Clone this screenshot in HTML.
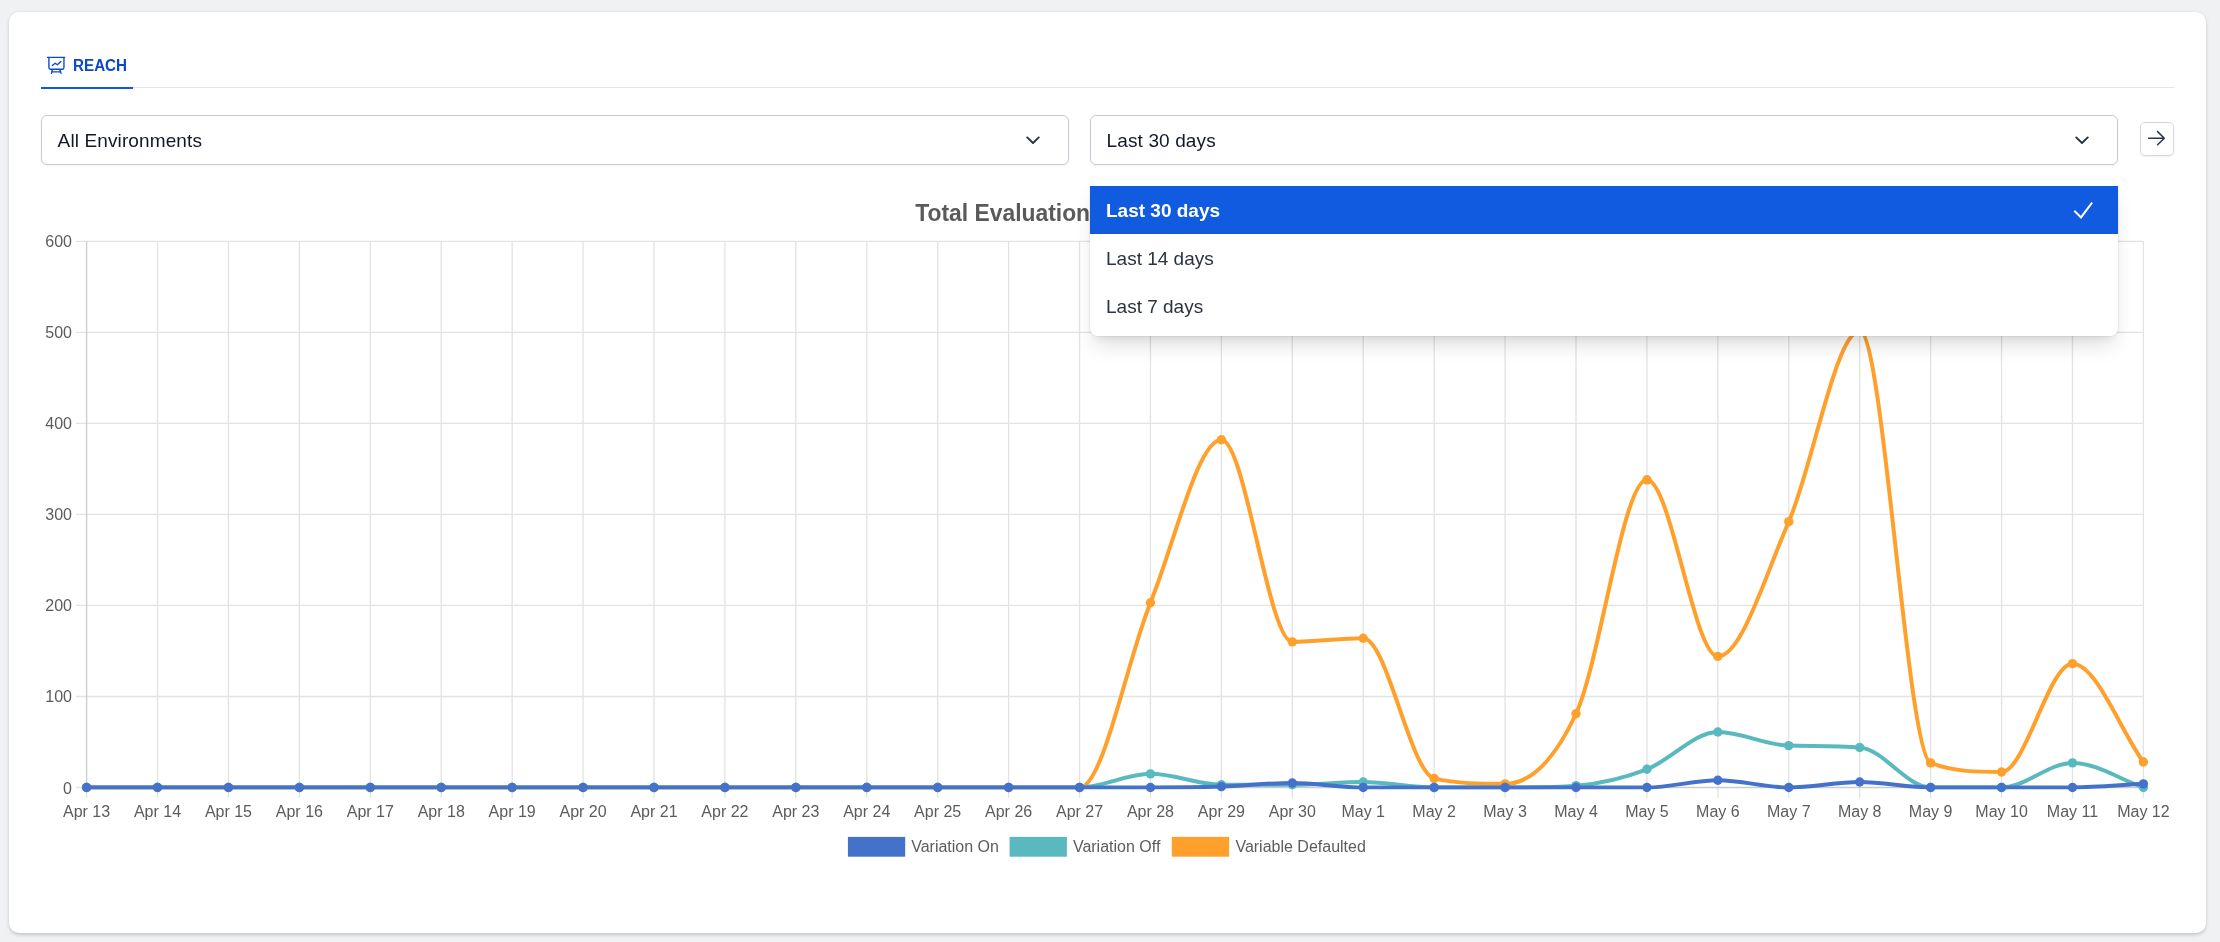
<!DOCTYPE html>
<html>
<head>
<meta charset="utf-8">
<title>Reach</title>
<style>
html,body{margin:0;padding:0;}
body{width:2220px;height:942px;overflow:hidden;background:#f0f1f3;font-family:"Liberation Sans",sans-serif;position:relative;}
.card{position:absolute;left:9px;top:12px;width:2197px;height:921px;background:#fff;border-radius:10px;box-shadow:0 1.3px 4px rgba(0,0,0,.11),0 1.3px 2.7px rgba(0,0,0,.07);}
.tabline{position:absolute;left:41px;top:87px;width:2133px;height:1px;background:#e2e4ea;}
.tabactive{position:absolute;left:41px;top:87px;width:92px;height:2px;background:#1158e0;}
.tabtxt{position:absolute;left:72.6px;top:54.6px;font-size:17.2px;font-weight:bold;color:#0a47c9;line-height:20px;transform:scaleX(0.885);transform-origin:0 0;white-space:nowrap;}
.tabicon{position:absolute;left:46px;top:55px;}
.sel{position:absolute;top:115px;height:48px;border:1px solid #c5c9d3;border-radius:6px;background:#fff;box-shadow:0 1px 2px rgba(0,0,0,.05);}
.sel span{letter-spacing:0.12px;position:absolute;left:15.6px;top:14px;font-size:19px;line-height:21px;color:#111827;white-space:nowrap;}
.sel svg{position:absolute;right:27px;top:17px;}
.btn{position:absolute;left:2140px;top:122px;width:32px;height:32px;border:1px solid #d4d7de;border-radius:5px;background:#fff;box-shadow:0 1px 2px rgba(0,0,0,.06);}
.chart{position:absolute;left:0;top:0;}
.layer{position:absolute;left:0;top:0;width:2220px;height:942px;will-change:transform;}
.dd{position:absolute;left:1090px;top:180px;width:1028px;height:156px;background:#fff;border-radius:8px;box-shadow:0 13px 20px -4px rgba(0,0,0,.13),0 5px 8px -3px rgba(0,0,0,.08),0 0 0 1px rgba(0,0,0,.04);}
.dd .it{position:absolute;left:0;width:1028px;height:48px;}
.dd .it span{position:absolute;left:16px;top:13.8px;font-size:19px;line-height:21px;color:#2a3342;white-space:nowrap;}
.dd .it.on{background:#115be0;}
.dd .it.on span{color:#fff;font-weight:bold;}
</style>
</head>
<body>
<div class="card"></div>
<div class="layer">
<div class="tabline"></div>
<div class="tabactive"></div>
<svg class="tabicon" width="20" height="20" viewBox="0 0 20 20" fill="none" stroke="#0a47c9" stroke-width="1.35" stroke-linecap="round" stroke-linejoin="round">
<path d="M1.500 2.300h17.200M2.900 2.300v10.300a1.600 1.600 0 0 0 1.600 1.600h11.850a1.600 1.600 0 0 0 1.600-1.600V2.300M6.400 14.500l-0.950 3.900M13.800 14.500l1.250 3.900M5.700 16.800h8.800"/>
<path d="M6.300 10.500l2.900-2.300 2.200 1.500 3.500-3.200"/>
</svg>
<div class="tabtxt">REACH</div>

<div class="sel" style="left:41px;width:1026px;"><span>All Environments</span>
<svg width="16" height="16" viewBox="0 0 16 16" fill="none" stroke="#283141" stroke-width="1.9" stroke-linecap="round" stroke-linejoin="round"><path d="M2.200 4.400l5.800 5.600 5.800-5.600"/></svg></div>
<div class="sel" style="left:1090px;width:1026px;"><span>Last 30 days</span>
<svg width="16" height="16" viewBox="0 0 16 16" fill="none" stroke="#283141" stroke-width="1.9" stroke-linecap="round" stroke-linejoin="round"><path d="M2.200 4.400l5.800 5.600 5.800-5.600"/></svg></div>
<div class="btn"><svg width="32" height="32" viewBox="0 0 32 32" fill="none" stroke="#2d3748" stroke-width="1.5" stroke-linecap="round" stroke-linejoin="round" style="position:absolute;left:0;top:0"><path d="M7.6 15.2H23.2M16.6 8.6l6.700 6.600-6.700 6.600"/></svg></div>

<svg class="chart" width="2220" height="942" viewBox="0 0 2220 942">
<defs><clipPath id="ca"><rect x="84.60" y="239.30" width="2060.80" height="550.20"/></clipPath></defs>
<g stroke="#E3E3E3" stroke-width="1.33" shape-rendering="auto"><line x1="86.60" y1="241.30" x2="86.60" y2="798.10"/><line x1="157.52" y1="241.30" x2="157.52" y2="798.10"/><line x1="228.45" y1="241.30" x2="228.45" y2="798.10"/><line x1="299.37" y1="241.30" x2="299.37" y2="798.10"/><line x1="370.30" y1="241.30" x2="370.30" y2="798.10"/><line x1="441.22" y1="241.30" x2="441.22" y2="798.10"/><line x1="512.14" y1="241.30" x2="512.14" y2="798.10"/><line x1="583.07" y1="241.30" x2="583.07" y2="798.10"/><line x1="653.99" y1="241.30" x2="653.99" y2="798.10"/><line x1="724.92" y1="241.30" x2="724.92" y2="798.10"/><line x1="795.84" y1="241.30" x2="795.84" y2="798.10"/><line x1="866.77" y1="241.30" x2="866.77" y2="798.10"/><line x1="937.69" y1="241.30" x2="937.69" y2="798.10"/><line x1="1008.61" y1="241.30" x2="1008.61" y2="798.10"/><line x1="1079.54" y1="241.30" x2="1079.54" y2="798.10"/><line x1="1150.46" y1="241.30" x2="1150.46" y2="798.10"/><line x1="1221.39" y1="241.30" x2="1221.39" y2="798.10"/><line x1="1292.31" y1="241.30" x2="1292.31" y2="798.10"/><line x1="1363.23" y1="241.30" x2="1363.23" y2="798.10"/><line x1="1434.16" y1="241.30" x2="1434.16" y2="798.10"/><line x1="1505.08" y1="241.30" x2="1505.08" y2="798.10"/><line x1="1576.01" y1="241.30" x2="1576.01" y2="798.10"/><line x1="1646.93" y1="241.30" x2="1646.93" y2="798.10"/><line x1="1717.86" y1="241.30" x2="1717.86" y2="798.10"/><line x1="1788.78" y1="241.30" x2="1788.78" y2="798.10"/><line x1="1859.70" y1="241.30" x2="1859.70" y2="798.10"/><line x1="1930.63" y1="241.30" x2="1930.63" y2="798.10"/><line x1="2001.55" y1="241.30" x2="2001.55" y2="798.10"/><line x1="2072.48" y1="241.30" x2="2072.48" y2="798.10"/><line x1="2143.40" y1="241.30" x2="2143.40" y2="798.10"/><line x1="76.00" y1="787.50" x2="2143.40" y2="787.50"/><line x1="76.00" y1="696.47" x2="2143.40" y2="696.47"/><line x1="76.00" y1="605.43" x2="2143.40" y2="605.43"/><line x1="76.00" y1="514.40" x2="2143.40" y2="514.40"/><line x1="76.00" y1="423.37" x2="2143.40" y2="423.37"/><line x1="76.00" y1="332.33" x2="2143.40" y2="332.33"/><line x1="76.00" y1="241.30" x2="2143.40" y2="241.30"/></g><g stroke="#000" stroke-opacity="0.1" stroke-width="1.33"><line x1="86.60" y1="241.30" x2="86.60" y2="787.50"/><line x1="86.60" y1="787.50" x2="2143.40" y2="787.50"/></g>
<g font-family="Liberation Sans, sans-serif" font-size="16" fill="#5c5c5c"><text x="72.00" y="793.50" text-anchor="end">0</text><text x="72.00" y="702.47" text-anchor="end">100</text><text x="72.00" y="611.43" text-anchor="end">200</text><text x="72.00" y="520.40" text-anchor="end">300</text><text x="72.00" y="429.37" text-anchor="end">400</text><text x="72.00" y="338.33" text-anchor="end">500</text><text x="72.00" y="247.30" text-anchor="end">600</text><text x="86.60" y="816.90" text-anchor="middle">Apr 13</text><text x="157.52" y="816.90" text-anchor="middle">Apr 14</text><text x="228.45" y="816.90" text-anchor="middle">Apr 15</text><text x="299.37" y="816.90" text-anchor="middle">Apr 16</text><text x="370.30" y="816.90" text-anchor="middle">Apr 17</text><text x="441.22" y="816.90" text-anchor="middle">Apr 18</text><text x="512.14" y="816.90" text-anchor="middle">Apr 19</text><text x="583.07" y="816.90" text-anchor="middle">Apr 20</text><text x="653.99" y="816.90" text-anchor="middle">Apr 21</text><text x="724.92" y="816.90" text-anchor="middle">Apr 22</text><text x="795.84" y="816.90" text-anchor="middle">Apr 23</text><text x="866.77" y="816.90" text-anchor="middle">Apr 24</text><text x="937.69" y="816.90" text-anchor="middle">Apr 25</text><text x="1008.61" y="816.90" text-anchor="middle">Apr 26</text><text x="1079.54" y="816.90" text-anchor="middle">Apr 27</text><text x="1150.46" y="816.90" text-anchor="middle">Apr 28</text><text x="1221.39" y="816.90" text-anchor="middle">Apr 29</text><text x="1292.31" y="816.90" text-anchor="middle">Apr 30</text><text x="1363.23" y="816.90" text-anchor="middle">May 1</text><text x="1434.16" y="816.90" text-anchor="middle">May 2</text><text x="1505.08" y="816.90" text-anchor="middle">May 3</text><text x="1576.01" y="816.90" text-anchor="middle">May 4</text><text x="1646.93" y="816.90" text-anchor="middle">May 5</text><text x="1717.86" y="816.90" text-anchor="middle">May 6</text><text x="1788.78" y="816.90" text-anchor="middle">May 7</text><text x="1859.70" y="816.90" text-anchor="middle">May 8</text><text x="1930.63" y="816.90" text-anchor="middle">May 9</text><text x="2001.55" y="816.90" text-anchor="middle">May 10</text><text x="2072.48" y="816.90" text-anchor="middle">May 11</text><text x="2143.40" y="816.90" text-anchor="middle">May 12</text></g>
<text transform="translate(915.3 220.7) scale(0.929 1)" font-family="Liberation Sans, sans-serif" font-size="24.6" font-weight="bold" fill="#5a5a5a">Total Evaluation</text>
<path d="M86.60 787.50 C110.24 787.50 133.88 787.50 157.52 787.50 C181.17 787.50 204.81 787.50 228.45 787.50 C252.09 787.50 275.73 787.50 299.37 787.50 C323.01 787.50 346.66 787.50 370.30 787.50 C393.94 787.50 417.58 787.50 441.22 787.50 C464.86 787.50 488.50 787.50 512.14 787.50 C535.79 787.50 559.43 787.50 583.07 787.50 C606.71 787.50 630.35 787.50 653.99 787.50 C677.63 787.50 701.28 787.50 724.92 787.50 C748.56 787.50 772.20 787.50 795.84 787.50 C819.48 787.50 843.12 787.50 866.77 787.50 C890.41 787.50 914.05 787.50 937.69 787.50 C961.33 787.50 984.97 787.50 1008.61 787.50 C1032.26 787.50 1055.90 787.50 1079.54 787.50 C1103.18 787.50 1126.82 660.66 1150.46 602.70 C1174.10 544.74 1197.74 439.75 1221.39 439.75 C1245.03 439.75 1268.67 641.85 1292.31 641.85 C1315.95 641.85 1339.59 638.21 1363.23 638.21 C1386.88 638.21 1410.52 772.93 1434.16 778.40 C1457.80 783.86 1481.44 783.86 1505.08 783.86 C1528.72 783.86 1552.37 764.44 1576.01 713.76 C1599.65 663.09 1623.29 479.81 1646.93 479.81 C1670.57 479.81 1694.21 656.41 1717.86 656.41 C1741.50 656.41 1765.14 575.92 1788.78 521.68 C1812.42 467.44 1836.06 330.97 1859.70 330.97 C1883.34 330.97 1906.99 753.82 1930.63 762.92 C1954.27 772.02 1977.91 772.02 2001.55 772.02 C2025.19 772.02 2048.83 663.69 2072.48 663.69 C2096.12 663.69 2119.76 729.24 2143.40 762.01" fill="none" stroke="#FFA02D" stroke-width="4" stroke-linecap="butt" stroke-linejoin="miter" clip-path="url(#ca)"/>
<circle cx="86.60" cy="787.50" r="4.7" fill="#FFA02D"/><circle cx="157.52" cy="787.50" r="4.7" fill="#FFA02D"/><circle cx="228.45" cy="787.50" r="4.7" fill="#FFA02D"/><circle cx="299.37" cy="787.50" r="4.7" fill="#FFA02D"/><circle cx="370.30" cy="787.50" r="4.7" fill="#FFA02D"/><circle cx="441.22" cy="787.50" r="4.7" fill="#FFA02D"/><circle cx="512.14" cy="787.50" r="4.7" fill="#FFA02D"/><circle cx="583.07" cy="787.50" r="4.7" fill="#FFA02D"/><circle cx="653.99" cy="787.50" r="4.7" fill="#FFA02D"/><circle cx="724.92" cy="787.50" r="4.7" fill="#FFA02D"/><circle cx="795.84" cy="787.50" r="4.7" fill="#FFA02D"/><circle cx="866.77" cy="787.50" r="4.7" fill="#FFA02D"/><circle cx="937.69" cy="787.50" r="4.7" fill="#FFA02D"/><circle cx="1008.61" cy="787.50" r="4.7" fill="#FFA02D"/><circle cx="1079.54" cy="787.50" r="4.7" fill="#FFA02D"/><circle cx="1150.46" cy="602.70" r="4.7" fill="#FFA02D"/><circle cx="1221.39" cy="439.75" r="4.7" fill="#FFA02D"/><circle cx="1292.31" cy="641.85" r="4.7" fill="#FFA02D"/><circle cx="1363.23" cy="638.21" r="4.7" fill="#FFA02D"/><circle cx="1434.16" cy="778.40" r="4.7" fill="#FFA02D"/><circle cx="1505.08" cy="783.86" r="4.7" fill="#FFA02D"/><circle cx="1576.01" cy="713.76" r="4.7" fill="#FFA02D"/><circle cx="1646.93" cy="479.81" r="4.7" fill="#FFA02D"/><circle cx="1717.86" cy="656.41" r="4.7" fill="#FFA02D"/><circle cx="1788.78" cy="521.68" r="4.7" fill="#FFA02D"/><circle cx="1859.70" cy="330.97" r="4.7" fill="#FFA02D"/><circle cx="1930.63" cy="762.92" r="4.7" fill="#FFA02D"/><circle cx="2001.55" cy="772.02" r="4.7" fill="#FFA02D"/><circle cx="2072.48" cy="663.69" r="4.7" fill="#FFA02D"/><circle cx="2143.40" cy="762.01" r="4.7" fill="#FFA02D"/>

<path d="M86.60 787.50 C110.24 787.50 133.88 787.50 157.52 787.50 C181.17 787.50 204.81 787.50 228.45 787.50 C252.09 787.50 275.73 787.50 299.37 787.50 C323.01 787.50 346.66 787.50 370.30 787.50 C393.94 787.50 417.58 787.50 441.22 787.50 C464.86 787.50 488.50 787.50 512.14 787.50 C535.79 787.50 559.43 787.50 583.07 787.50 C606.71 787.50 630.35 787.50 653.99 787.50 C677.63 787.50 701.28 787.50 724.92 787.50 C748.56 787.50 772.20 787.50 795.84 787.50 C819.48 787.50 843.12 787.50 866.77 787.50 C890.41 787.50 914.05 787.50 937.69 787.50 C961.33 787.50 984.97 787.50 1008.61 787.50 C1032.26 787.50 1055.90 787.50 1079.54 787.50 C1103.18 787.50 1126.82 773.85 1150.46 773.85 C1174.10 773.85 1197.74 784.77 1221.39 784.77 C1245.03 784.77 1268.67 784.77 1292.31 784.77 C1315.95 784.77 1339.59 782.04 1363.23 782.04 C1386.88 782.04 1410.52 787.50 1434.16 787.50 C1457.80 787.50 1481.44 787.50 1505.08 787.50 C1528.72 787.50 1552.37 787.50 1576.01 785.68 C1599.65 783.86 1623.29 778.24 1646.93 769.29 C1670.57 760.34 1694.21 731.97 1717.86 731.97 C1741.50 731.97 1765.14 744.99 1788.78 745.62 C1812.42 746.26 1836.06 745.74 1859.70 747.45 C1883.34 749.15 1906.99 787.50 1930.63 787.50 C1954.27 787.50 1977.91 787.50 2001.55 787.50 C2025.19 787.50 2048.83 762.92 2072.48 762.92 C2096.12 762.92 2119.76 779.31 2143.40 787.50" fill="none" stroke="#5AB9BF" stroke-width="4" stroke-linecap="butt" stroke-linejoin="miter" clip-path="url(#ca)"/>
<circle cx="86.60" cy="787.50" r="4.7" fill="#5AB9BF"/><circle cx="157.52" cy="787.50" r="4.7" fill="#5AB9BF"/><circle cx="228.45" cy="787.50" r="4.7" fill="#5AB9BF"/><circle cx="299.37" cy="787.50" r="4.7" fill="#5AB9BF"/><circle cx="370.30" cy="787.50" r="4.7" fill="#5AB9BF"/><circle cx="441.22" cy="787.50" r="4.7" fill="#5AB9BF"/><circle cx="512.14" cy="787.50" r="4.7" fill="#5AB9BF"/><circle cx="583.07" cy="787.50" r="4.7" fill="#5AB9BF"/><circle cx="653.99" cy="787.50" r="4.7" fill="#5AB9BF"/><circle cx="724.92" cy="787.50" r="4.7" fill="#5AB9BF"/><circle cx="795.84" cy="787.50" r="4.7" fill="#5AB9BF"/><circle cx="866.77" cy="787.50" r="4.7" fill="#5AB9BF"/><circle cx="937.69" cy="787.50" r="4.7" fill="#5AB9BF"/><circle cx="1008.61" cy="787.50" r="4.7" fill="#5AB9BF"/><circle cx="1079.54" cy="787.50" r="4.7" fill="#5AB9BF"/><circle cx="1150.46" cy="773.85" r="4.7" fill="#5AB9BF"/><circle cx="1221.39" cy="784.77" r="4.7" fill="#5AB9BF"/><circle cx="1292.31" cy="784.77" r="4.7" fill="#5AB9BF"/><circle cx="1363.23" cy="782.04" r="4.7" fill="#5AB9BF"/><circle cx="1434.16" cy="787.50" r="4.7" fill="#5AB9BF"/><circle cx="1505.08" cy="787.50" r="4.7" fill="#5AB9BF"/><circle cx="1576.01" cy="785.68" r="4.7" fill="#5AB9BF"/><circle cx="1646.93" cy="769.29" r="4.7" fill="#5AB9BF"/><circle cx="1717.86" cy="731.97" r="4.7" fill="#5AB9BF"/><circle cx="1788.78" cy="745.62" r="4.7" fill="#5AB9BF"/><circle cx="1859.70" cy="747.45" r="4.7" fill="#5AB9BF"/><circle cx="1930.63" cy="787.50" r="4.7" fill="#5AB9BF"/><circle cx="2001.55" cy="787.50" r="4.7" fill="#5AB9BF"/><circle cx="2072.48" cy="762.92" r="4.7" fill="#5AB9BF"/><circle cx="2143.40" cy="787.50" r="4.7" fill="#5AB9BF"/>

<path d="M86.60 787.50 C110.24 787.50 133.88 787.50 157.52 787.50 C181.17 787.50 204.81 787.50 228.45 787.50 C252.09 787.50 275.73 787.50 299.37 787.50 C323.01 787.50 346.66 787.50 370.30 787.50 C393.94 787.50 417.58 787.50 441.22 787.50 C464.86 787.50 488.50 787.50 512.14 787.50 C535.79 787.50 559.43 787.50 583.07 787.50 C606.71 787.50 630.35 787.50 653.99 787.50 C677.63 787.50 701.28 787.50 724.92 787.50 C748.56 787.50 772.20 787.50 795.84 787.50 C819.48 787.50 843.12 787.50 866.77 787.50 C890.41 787.50 914.05 787.50 937.69 787.50 C961.33 787.50 984.97 787.50 1008.61 787.50 C1032.26 787.50 1055.90 787.50 1079.54 787.50 C1103.18 787.50 1126.82 787.50 1150.46 787.50 C1174.10 787.50 1197.74 787.35 1221.39 786.59 C1245.03 785.83 1268.67 782.95 1292.31 782.95 C1315.95 782.95 1339.59 787.50 1363.23 787.50 C1386.88 787.50 1410.52 787.50 1434.16 787.50 C1457.80 787.50 1481.44 787.50 1505.08 787.50 C1528.72 787.50 1552.37 787.50 1576.01 787.50 C1599.65 787.50 1623.29 787.50 1646.93 787.50 C1670.57 787.50 1694.21 780.22 1717.86 780.22 C1741.50 780.22 1765.14 787.50 1788.78 787.50 C1812.42 787.50 1836.06 782.04 1859.70 782.04 C1883.34 782.04 1906.99 787.50 1930.63 787.50 C1954.27 787.50 1977.91 787.50 2001.55 787.50 C2025.19 787.50 2048.83 787.50 2072.48 787.50 C2096.12 787.50 2119.76 785.07 2143.40 783.86" fill="none" stroke="#4472CA" stroke-width="4" stroke-linecap="butt" stroke-linejoin="miter" clip-path="url(#ca)"/>
<circle cx="86.60" cy="787.50" r="4.7" fill="#4472CA"/><circle cx="157.52" cy="787.50" r="4.7" fill="#4472CA"/><circle cx="228.45" cy="787.50" r="4.7" fill="#4472CA"/><circle cx="299.37" cy="787.50" r="4.7" fill="#4472CA"/><circle cx="370.30" cy="787.50" r="4.7" fill="#4472CA"/><circle cx="441.22" cy="787.50" r="4.7" fill="#4472CA"/><circle cx="512.14" cy="787.50" r="4.7" fill="#4472CA"/><circle cx="583.07" cy="787.50" r="4.7" fill="#4472CA"/><circle cx="653.99" cy="787.50" r="4.7" fill="#4472CA"/><circle cx="724.92" cy="787.50" r="4.7" fill="#4472CA"/><circle cx="795.84" cy="787.50" r="4.7" fill="#4472CA"/><circle cx="866.77" cy="787.50" r="4.7" fill="#4472CA"/><circle cx="937.69" cy="787.50" r="4.7" fill="#4472CA"/><circle cx="1008.61" cy="787.50" r="4.7" fill="#4472CA"/><circle cx="1079.54" cy="787.50" r="4.7" fill="#4472CA"/><circle cx="1150.46" cy="787.50" r="4.7" fill="#4472CA"/><circle cx="1221.39" cy="786.59" r="4.7" fill="#4472CA"/><circle cx="1292.31" cy="782.95" r="4.7" fill="#4472CA"/><circle cx="1363.23" cy="787.50" r="4.7" fill="#4472CA"/><circle cx="1434.16" cy="787.50" r="4.7" fill="#4472CA"/><circle cx="1505.08" cy="787.50" r="4.7" fill="#4472CA"/><circle cx="1576.01" cy="787.50" r="4.7" fill="#4472CA"/><circle cx="1646.93" cy="787.50" r="4.7" fill="#4472CA"/><circle cx="1717.86" cy="780.22" r="4.7" fill="#4472CA"/><circle cx="1788.78" cy="787.50" r="4.7" fill="#4472CA"/><circle cx="1859.70" cy="782.04" r="4.7" fill="#4472CA"/><circle cx="1930.63" cy="787.50" r="4.7" fill="#4472CA"/><circle cx="2001.55" cy="787.50" r="4.7" fill="#4472CA"/><circle cx="2072.48" cy="787.50" r="4.7" fill="#4472CA"/><circle cx="2143.40" cy="783.86" r="4.7" fill="#4472CA"/>

<rect x="847.9" y="836.9" width="57.3" height="19.8" fill="#4472CA"/><text x="911.2" y="852.3" font-family="Liberation Sans, sans-serif" font-size="16" fill="#5c5c5c">Variation On</text>
<rect x="1009.6" y="836.9" width="57.3" height="19.8" fill="#5AB9BF"/><text x="1072.9" y="852.3" font-family="Liberation Sans, sans-serif" font-size="16" fill="#5c5c5c">Variation Off</text>
<rect x="1171.8" y="836.9" width="57.3" height="19.8" fill="#FFA02D"/><text x="1235.4" y="852.3" font-family="Liberation Sans, sans-serif" font-size="16" fill="#5c5c5c">Variable Defaulted</text>
</svg>

<div class="dd">
<div class="it on" style="top:6px"><span>Last 30 days</span>
<svg width="24" height="24" viewBox="0 0 24 24" fill="none" stroke="#fff" stroke-width="2" stroke-linecap="butt" stroke-linejoin="miter" style="position:absolute;left:981px;top:13px"><path d="M3.3 11.7L10 18.4L21.1 3.6"/></svg></div>
<div class="it" style="top:54px"><span>Last 14 days</span></div>
<div class="it" style="top:102px"><span>Last 7 days</span></div>
</div>
</div>
</body>
</html>
